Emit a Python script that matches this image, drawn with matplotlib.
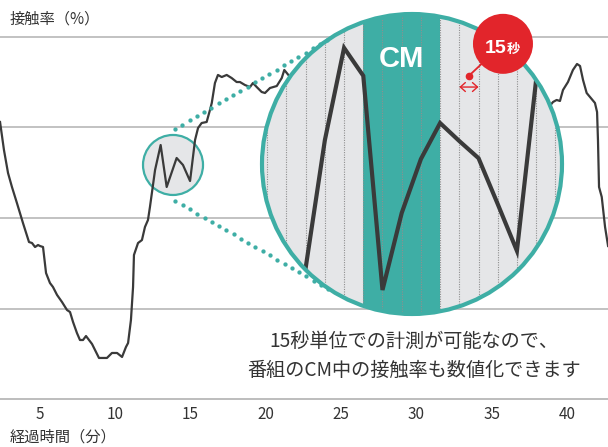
import matplotlib
matplotlib.use("Agg")
import matplotlib.pyplot as plt
import numpy as np
from matplotlib.patches import Circle, Ellipse

plt.rcParams['font.family'] = ['Noto Sans CJK JP', 'DejaVu Sans']

W, H = 608, 447
TEAL = '#3eaea5'
RED = '#e2252b'
INK = '#3a3a3a'
TEXT = '#333333'
GRID = '#b8b8b8'
LENS = '#e5e6e8'

# Contact rate (%) over the programme, by elapsed minute
minutes = [2.39, 2.65, 2.92, 3.18, 3.51, 3.91, 4.31, 4.51, 4.71, 4.91, 5.04, 5.24,
           5.44, 5.70, 5.90, 6.17, 6.50, 6.83, 7.03, 7.23, 7.49, 7.69, 7.89, 8.09,
           8.49, 8.95, 9.48, 9.81, 10.15, 10.48, 10.74, 10.88, 11.07, 11.21, 11.27,
           11.54, 11.80, 12.00, 12.20, 12.33, 12.67, 13.04, 13.44, 14.10, 14.52,
           14.99, 15.32, 15.52, 15.76, 16.09, 16.31, 16.43, 16.64, 16.84, 17.09,
           17.42, 17.75, 18.08, 18.30, 18.63, 18.97, 19.16, 19.41, 19.74, 19.96,
           20.29, 20.74, 21.07, 21.24, 21.51, 21.75, 38.73, 39.06, 39.30, 39.52,
           39.72, 40.05, 40.38, 40.65, 40.85, 41.05, 41.29, 41.51, 41.84, 41.98,
           42.04, 42.11, 42.29, 42.51, 42.71]
rate = [30.59, 27.50, 24.96, 23.42, 21.65, 19.45, 17.35, 17.24, 16.80, 17.02, 16.91, 16.80,
        13.93, 12.83, 12.39, 11.51, 10.73, 9.85, 9.63, 8.53, 7.31, 6.54, 6.54, 6.98,
        6.10, 4.56, 4.56, 5.11, 5.11, 4.67, 5.77, 6.21, 8.75, 12.39, 15.92,
        17.24, 17.57, 19.01, 19.78, 21.21, 25.30, 28.05, 23.42, 26.62, 25.85,
        24.08, 28.60, 29.93, 30.48, 30.59, 31.91, 32.69, 34.89, 35.78, 35.55,
        35.78, 35.44, 35.00, 35.00, 34.67, 34.45, 34.89, 34.45, 33.90, 33.79,
        34.34, 34.56, 35.44, 36.33, 35.78, 35.44, 32.13, 32.80, 33.02, 32.91,
        34.12, 35.00, 36.33, 36.99, 36.77, 35.22, 33.79, 33.35, 32.69, 31.69,
        28.60, 23.42, 22.32, 19.01, 16.91]
xticks = [5, 10, 15, 20, 25, 30, 35, 40]
grid_levels = [10, 20, 30, 40]

# 15-second detail around the commercial break (seconds from CM start)
detail_sec = [-60, -45, -30, -15, 0, 15, 30, 45, 60, 75, 90, 105, 120, 135, 150]
detail_rate = [21.89, 23.49, 26.33, 28.38, 27.76, 23.00, 24.71, 25.91, 26.71,
               26.31, 25.93, 24.91, 23.87, 27.67, 28.11]
cm_span = (0, 60)
slot = 15
slot_marks = list(range(-75, 151, slot))

# region of the main curve that the lens magnifies
focus_minute, focus_rate = 13.86, 25.85

fig = plt.figure(figsize=(W / 100, H / 100), dpi=100)

# ---- main chart -------------------------------------------------------
ax_bottom, ax_top = 399.3, 36.7
ax = fig.add_axes([0, (H - ax_bottom) / H, 1, (ax_bottom - ax_top) / H])
x0, x1 = 2.387, 42.705
ax.set_xlim(x0, x1)
ax.set_ylim(0, 40)
ax.set_yticks([])
ax.set_xticks(xticks)
ax.set_xticklabels([str(t) for t in xticks])
ax.tick_params(axis='x', length=0, pad=5, labelsize=11, labelcolor=TEXT)
for s in ('left', 'right', 'top'):
    ax.spines[s].set_visible(False)
ax.spines['bottom'].set_color(GRID)
ax.spines['bottom'].set_linewidth(1.3)
for g in grid_levels:
    ax.axhline(g, color=GRID, lw=1.2, zorder=1, clip_on=False)

px_x = W / (x1 - x0)
px_y = (ax_bottom - ax_top) / 40
small_r = 30
ax.add_patch(Ellipse((focus_minute, focus_rate), 2 * small_r / px_x, 2 * small_r / px_y,
                     fc=LENS, ec=TEAL, lw=1.6, zorder=2))
ax.plot(minutes, rate, color=INK, lw=1.6, zorder=3, solid_joinstyle='round')

# ---- magnified lens ----------------------------------------------------
lens_left, lens_top, lens_size = 262, 14, 300
ins = fig.add_axes([lens_left / W, (H - lens_top - lens_size) / H, lens_size / W, lens_size / H],
                   zorder=3)
ins.set_xlim(-79.1, 155.2)
ins.set_ylim(22.467, 29.133)
ins.axis('off')
lens = Circle((0.5, 0.5), 0.5, transform=ins.transAxes, fc=LENS, ec='none', zorder=1)
ins.add_patch(lens)
band = ins.axvspan(*cm_span, color=TEAL, lw=0, zorder=2)
band.set_clip_path(lens)
for s in slot_marks:
    ln = ins.axvline(s, color='#8f8f8f', lw=0.8, ls=(0, (1, 1.2)), zorder=3)
    ln.set_clip_path(lens)
dl, = ins.plot(detail_sec, detail_rate, color=INK, lw=3, zorder=4, solid_joinstyle='miter')
dl.set_clip_path(lens)
ins.add_patch(Circle((0.5, 0.5), 0.5, transform=ins.transAxes, fc='none', ec=TEAL,
                     lw=3, zorder=6, clip_on=False))
ins.text(sum(cm_span) / 2, 0.85, 'CM', transform=ins.get_xaxis_transform(),
         ha='center', va='center', color='white', fontsize=21, fontweight='bold',
         family=['Liberation Sans', 'DejaVu Sans'], zorder=7)

# 15-second slot callout
px_s = lens_size / (155.2 + 79.1)
px_v = lens_size / (29.133 - 22.467)
bub_x, bub_y, bub_r = 109.1, 28.47, 30
dot_x, dot_y = 82.5, 27.76
ins.plot([dot_x, bub_x], [dot_y, bub_y], color=RED, lw=1.3, zorder=7, clip_on=False)
ins.plot([dot_x], [dot_y], 'o', color=RED, ms=4.5, zorder=7, clip_on=False)
ins.add_patch(Ellipse((bub_x, bub_y), 2 * bub_r / px_s, 2 * bub_r / px_v, fc=RED,
                      ec='none', zorder=8, clip_on=False))
ins.annotate('', xy=(75, 27.51), xytext=(90, 27.51),
             arrowprops=dict(arrowstyle='<->,head_length=0.45,head_width=0.4', color=RED,
                             lw=1.0, mutation_scale=8, shrinkA=0, shrinkB=0),
             zorder=7, annotation_clip=False)
ins.text(111.9, 28.273, '15', ha='right', va='baseline', color='white', fontsize=14,
         fontweight='bold', family=['Liberation Sans', 'DejaVu Sans'], zorder=9)
ins.text(112.3, 28.273, '秒', ha='left', va='baseline', color='white', fontsize=9.5,
         fontweight='bold', zorder=9)

# ---- layout layer: connectors and captions (pixel coordinates) ---------
lay = fig.add_axes([0, 0, 1, 1], zorder=5)
lay.set_xlim(0, W)
lay.set_ylim(H, 0)
lay.axis('off')


def tangent_dots(c1, r1, c2, r2, side, start, end, step):
    c1, c2 = np.asarray(c1, float), np.asarray(c2, float)
    d = c2 - c1
    L = np.hypot(*d)
    u = d / L
    perp = np.array([-u[1], u[0]])
    a = (r2 - r1) / L
    n = a * u + side * np.sqrt(1 - a * a) * perp
    t1, t2 = c1 - r1 * n, c2 - r2 * n
    seg = t2 - t1
    length = np.hypot(*seg)
    s = np.arange(start, length - end + 0.01, step)
    return t1 + np.outer(s, seg / length)


small_c = ((focus_minute - x0) * px_x, ax_bottom - focus_rate * px_y)
big_c = (lens_left + lens_size / 2, lens_top + lens_size / 2)
for side in (1, -1):
    pts = tangent_dots(small_c, small_r, big_c, lens_size / 2, side, 20, 10, 8.4)
    lay.plot(pts[:, 0], pts[:, 1], 'o', color=TEAL, ms=3.1, mew=0)

lay.text(10, 19, '接触率（%）', ha='left', va='center', fontsize=11, color=TEXT)
lay.text(10, 437, '経過時間（分）', ha='left', va='center', fontsize=11, color=TEXT)
lay.text(414, 341.7, '15秒単位での計測が可能なので、', ha='center', va='center',
         fontsize=13.8, color=TEXT)
lay.text(414, 370, '番組のCM中の接触率も数値化できます', ha='center', va='center',
         fontsize=13.8, color=TEXT)

fig.savefig('out.png', dpi=100)
